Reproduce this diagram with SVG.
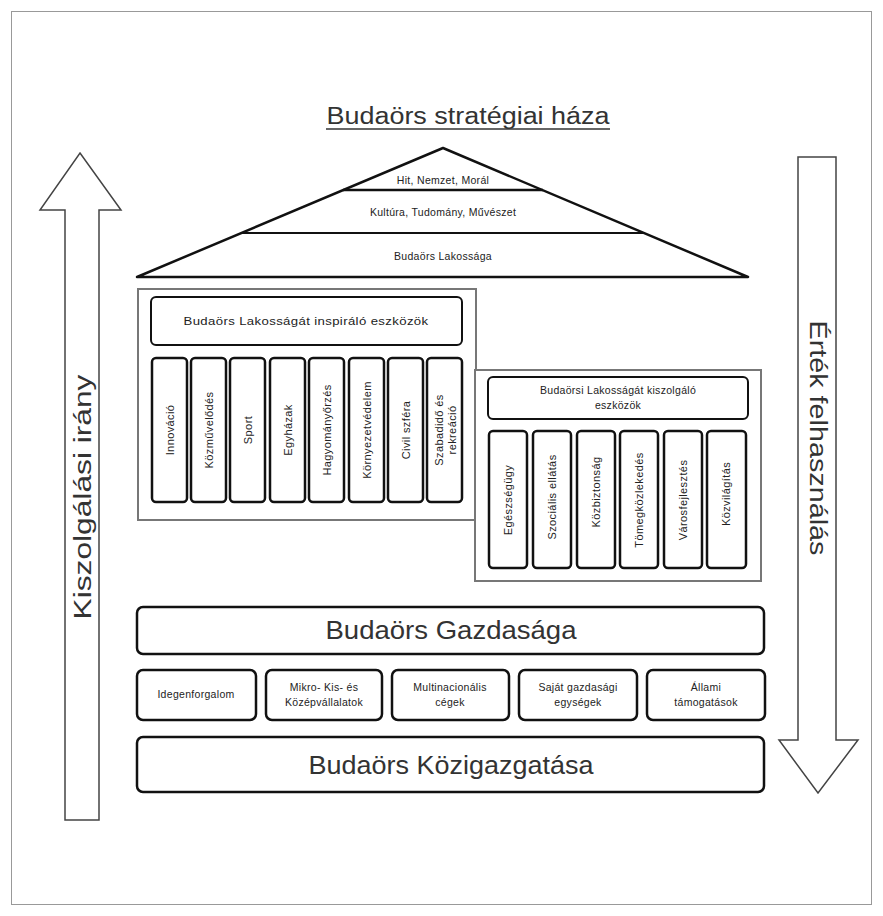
<svg xmlns="http://www.w3.org/2000/svg" width="883" height="916" viewBox="0 0 883 916">
<style>
text{font-family:"Liberation Sans",Arial,sans-serif;fill:#222;text-anchor:middle;dominant-baseline:central}
.frame{fill:#fff;stroke:#999;stroke-width:1}
.panel{fill:#fff;stroke:#777;stroke-width:2}
.hdr{fill:#fff;stroke:#111;stroke-width:2;}
.pil{fill:#fff;stroke:#111;stroke-width:2.5}
.box{fill:#fff;stroke:#111;stroke-width:2.5}
.roof{fill:#fff;stroke:#111;stroke-width:2.5;stroke-linejoin:round}
.arrow{fill:#fff;stroke:#444;stroke-width:1.5}
.s{font-size:10.5px;letter-spacing:0.3px}
.p{font-size:11px;letter-spacing:0.4px}
.big{font-size:25px;fill:#333}
.side{font-size:23px;fill:#333}
</style>
<rect x="0" y="0" width="883" height="916" fill="#fff"/>
<rect class="frame" x="11.5" y="11.5" width="860" height="893"/>

<g id="title">
<text x="468" y="116" style="font-size:23px;fill:#333" textLength="283" lengthAdjust="spacingAndGlyphs">Budaörs stratégiai háza</text>
<line x1="326" y1="129" x2="610" y2="129" stroke="#333" stroke-width="1.5"/>
</g>

<g id="arrow-left">
<polygon class="arrow" points="80,153 121,210 99,210 99,820 65,820 65,210 40,210"/>
<text class="side" transform="translate(83,497) rotate(-90)" textLength="245" lengthAdjust="spacingAndGlyphs">Kiszolgálási irány</text>
</g>

<g id="arrow-right">
<polygon class="arrow" points="798,157 836,157 836,740 858,740 818,793 779,740 798,740"/>
<text class="side" transform="translate(818,438) rotate(90)" textLength="235" lengthAdjust="spacingAndGlyphs">Érték felhasználás</text>
</g>

<g id="roof">
<polygon class="roof" points="443,148 748,277 137,277"/>
<line x1="343" y1="190" x2="543" y2="190" stroke="#111" stroke-width="2.5"/>
<line x1="241" y1="233" x2="645" y2="233" stroke="#111" stroke-width="2"/>
<text class="s" x="443" y="180">Hit, Nemzet, Morál</text>
<text class="s" x="443" y="212">Kultúra, Tudomány, Művészet</text>
<text class="s" x="443" y="256">Budaörs Lakossága</text>
</g>

<g id="inspiring-panel">
<rect class="panel" x="138" y="289" width="338" height="231"/>
<rect class="hdr" x="151" y="297" width="311" height="48" rx="5"/>
<text class="s" x="306" y="321" textLength="245" lengthAdjust="spacingAndGlyphs">Budaörs Lakosságát inspiráló eszközök</text>
</g>
<g id="pillar-l1"><rect class="pil" x="152" y="358" width="35" height="144" rx="4"/><text class="p" transform="translate(170,430) rotate(-90)">Innováció</text></g>
<g id="pillar-l2"><rect class="pil" x="191" y="358" width="35" height="144" rx="4"/><text class="p" transform="translate(209,430) rotate(-90)">Közművelődés</text></g>
<g id="pillar-l3"><rect class="pil" x="230" y="358" width="35" height="144" rx="4"/><text class="p" transform="translate(248,430) rotate(-90)">Sport</text></g>
<g id="pillar-l4"><rect class="pil" x="270" y="358" width="35" height="144" rx="4"/><text class="p" transform="translate(288,430) rotate(-90)">Egyházak</text></g>
<g id="pillar-l5"><rect class="pil" x="309" y="358" width="35" height="144" rx="4"/><text class="p" transform="translate(327,430) rotate(-90)">Hagyományőrzés</text></g>
<g id="pillar-l6"><rect class="pil" x="349" y="358" width="35" height="144" rx="4"/><text class="p" transform="translate(367,430) rotate(-90)">Környezetvédelem</text></g>
<g id="pillar-l7"><rect class="pil" x="388" y="358" width="35" height="144" rx="4"/><text class="p" transform="translate(406,430) rotate(-90)">Civil szféra</text></g>
<g id="pillar-l8"><rect class="pil" x="427" y="358" width="35" height="144" rx="4"/><text class="p" transform="translate(445,430) rotate(-90)"><tspan x="0" dy="-6">Szabadidő és</tspan><tspan x="0" dy="13">rekreáció</tspan></text></g>

<g id="serving-panel">
<rect class="panel" x="475" y="370" width="286" height="211"/>
<rect class="hdr" x="488" y="377" width="260" height="42" rx="5"/>
<text class="s" x="618" y="390">Budaörsi Lakosságát kiszolgáló</text>
<text class="s" x="618" y="405">eszközök</text>
</g>
<g id="pillar-r1"><rect class="pil" x="489" y="431" width="38" height="137" rx="4"/><text class="p" transform="translate(508,500) rotate(-90)">Egészségügy</text></g>
<g id="pillar-r2"><rect class="pil" x="533" y="431" width="38" height="137" rx="4"/><text class="p" transform="translate(552,497) rotate(-90)">Szociális ellátás</text></g>
<g id="pillar-r3"><rect class="pil" x="577" y="431" width="38" height="137" rx="4"/><text class="p" transform="translate(596,492) rotate(-90)">Közbiztonság</text></g>
<g id="pillar-r4"><rect class="pil" x="620" y="431" width="38" height="137" rx="4"/><text class="p" transform="translate(639,500) rotate(-90)">Tömegközlekedés</text></g>
<g id="pillar-r5"><rect class="pil" x="664" y="431" width="38" height="137" rx="4"/><text class="p" transform="translate(683,500) rotate(-90)">Városfejlesztés</text></g>
<g id="pillar-r6"><rect class="pil" x="707" y="431" width="39" height="137" rx="4"/><text class="p" transform="translate(726,494) rotate(-90)">Közvilágítás</text></g>

<g id="economy">
<rect class="box" x="137" y="607" width="627" height="47" rx="6"/>
<text class="big" x="451" y="630" textLength="251" lengthAdjust="spacingAndGlyphs">Budaörs Gazdasága</text>
</g>
<g id="eco-1"><rect class="box" x="137" y="670" width="119" height="50" rx="6"/><text class="s" x="196" y="694">Idegenforgalom</text></g>
<g id="eco-2"><rect class="box" x="266" y="670" width="116" height="50" rx="6"/><text class="s" x="324" y="687">Mikro- Kis- és</text><text class="s" x="324" y="702">Középvállalatok</text></g>
<g id="eco-3"><rect class="box" x="392" y="670" width="117" height="50" rx="6"/><text class="s" x="450" y="687">Multinacionális</text><text class="s" x="450" y="702">cégek</text></g>
<g id="eco-4"><rect class="box" x="519" y="670" width="118" height="50" rx="6"/><text class="s" x="578" y="687">Saját gazdasági</text><text class="s" x="578" y="702">egységek</text></g>
<g id="eco-5"><rect class="box" x="647" y="670" width="118" height="50" rx="6"/><text class="s" x="706" y="687">Állami</text><text class="s" x="706" y="702">támogatások</text></g>

<g id="administration">
<rect class="box" x="137" y="737" width="627" height="55" rx="6"/>
<text class="big" x="451" y="765" textLength="285" lengthAdjust="spacingAndGlyphs">Budaörs Közigazgatása</text>
</g>
<g id="connectors"></g>
</svg>
